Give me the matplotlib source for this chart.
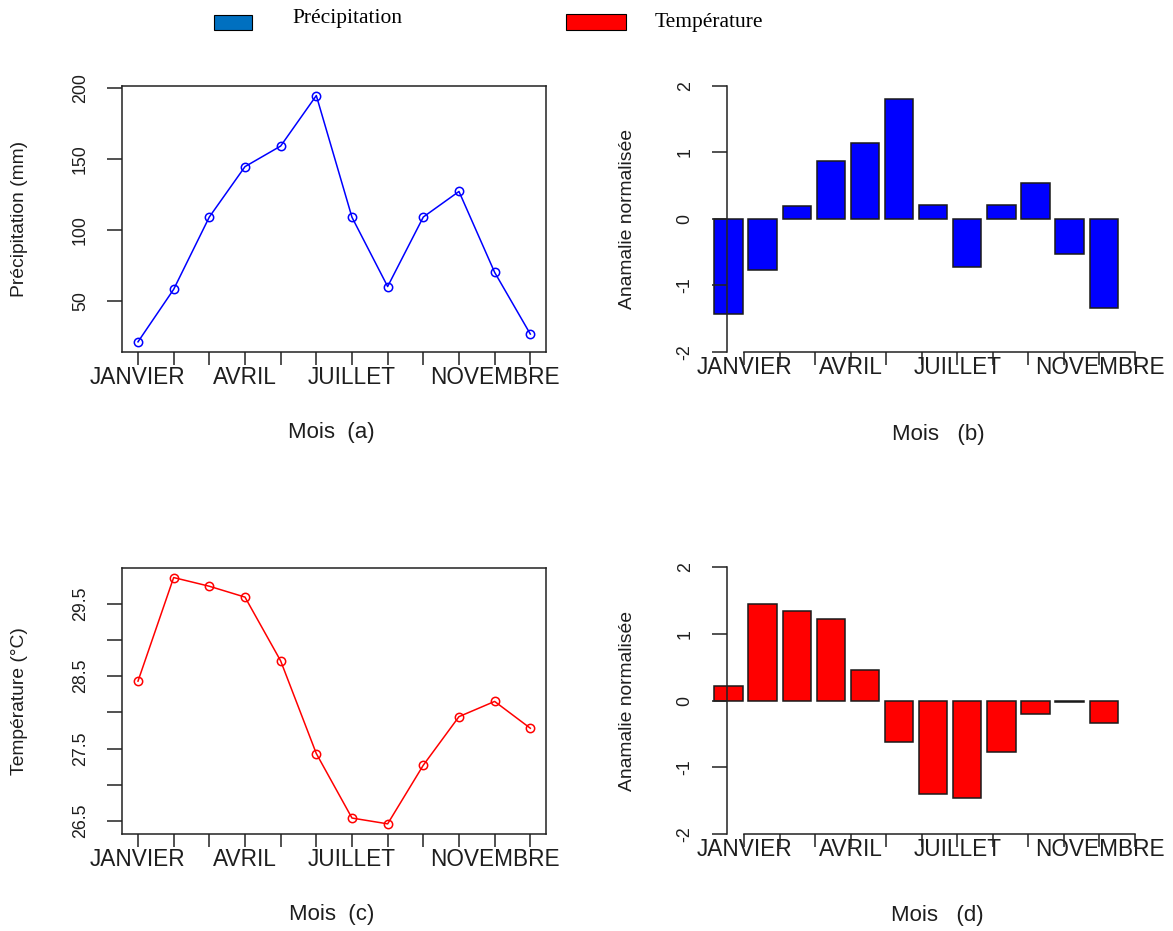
import numpy as np
import matplotlib
matplotlib.use("Agg")
import matplotlib.pyplot as plt
from matplotlib.patches import Rectangle

plt.rcParams['font.family'] = ['Liberation Sans', 'DejaVu Sans']
plt.rcParams['axes.unicode_minus'] = False

# --- data -------------------------------------------------------------
mois = ["JANVIER", "FEVRIER", "MARS", "AVRIL", "MAI", "JUIN",
        "JUILLET", "AOUT", "SEPTEMBRE", "OCTOBRE", "NOVEMBRE", "DECEMBRE"]
mois_affiches = ["JANVIER", "AVRIL", "JUILLET", "NOVEMBRE"]

precipitation = [21, 58, 109, 144.5, 159, 194.6, 108.8, 60, 109, 127, 70, 26.5]
temperature = [28.43, 29.86, 29.74, 29.59, 28.71, 27.43, 26.54, 26.46,
               27.27, 27.94, 28.15, 27.78]
anomalie_precip = [-1.44, -0.775, 0.185, 0.875, 1.135, 1.80, 0.205, -0.73,
                   0.205, 0.535, -0.53, -1.35]
anomalie_temp = [0.225, 1.445, 1.35, 1.22, 0.465, -0.62, -1.40, -1.465,
                 -0.775, -0.20, -0.015, -0.335]

precip_yticks = [50, 100, 150, 200]
temp_yticks = [26.5, 27.0, 27.5, 28.0, 28.5, 29.0, 29.5]
temp_ylabels = ["26.5", "", "27.5", "", "28.5", "", "29.5"]
anom_yticks = [-2, -1, 0, 1, 2]

W, H = 1173, 931
fig = plt.figure(figsize=(W / 100, H / 100), dpi=100)
fig.patch.set_facecolor("white")

TXT = "#1e1e1e"
AX = "#222222"
XFS = 16.3
YFS = 12.8


def axes_px(l, t, r, b):
    return fig.add_axes([l / W, 1 - b / H, (r - l) / W, (b - t) / H])


def month_labels():
    return [m if m in mois_affiches else "" for m in mois]


def style_ticks(ax, xticks, yticks, ylabels, xpad):
    ax.set_xticks(xticks)
    ax.set_xticklabels(month_labels(), fontsize=XFS, color=TXT)
    ax.set_yticks(yticks)
    ax.set_yticklabels(ylabels, fontsize=YFS, color=TXT)
    for lab in ax.get_yticklabels():
        lab.set_rotation(90)
        lab.set_va("center")
        lab.set_ha("right")
    ax.tick_params(axis="x", length=9, width=1.1, pad=xpad, color=AX)
    ax.tick_params(axis="y", length=11, width=1.1, pad=13, color=AX)


def line_panel(rect, values, color, yticks, ylabels, ylabel, ylabel_y):
    ax = axes_px(*rect)
    x = np.arange(1, 13)
    ax.plot(x, values, color=color, lw=1.1, marker="o", ms=6,
            mfc="none", mec=color, mew=1.1)
    lo, hi = min(values), max(values)
    pad = 0.04 * (hi - lo)
    ax.set_ylim(lo - pad, hi + pad)
    ax.set_xlim(0.56, 12.44)
    for s in ax.spines.values():
        s.set_linewidth(1.1)
        s.set_color(AX)
    style_ticks(ax, x, yticks, ylabels, xpad=1)
    fig.text(20 / W, 1 - ylabel_y / H, ylabel, rotation=90, ha="center",
             va="center", fontsize=13.9, color=TXT)
    return ax


def bar_panel(rect, values, color, ylabel_y):
    ax = axes_px(*rect)
    pos = 0.7 + 1.2 * np.arange(len(values))
    ax.bar(pos, values, width=1.0, color=color, edgecolor="#1a1a1a",
           linewidth=1.1)
    ax.set_xlim(0, 15)
    ax.set_ylim(-2, 2)
    ticks = 1.25 * np.arange(1, 13)
    ax.spines["top"].set_visible(False)
    ax.spines["right"].set_visible(False)
    ax.spines["left"].set_position(("data", 0.65))
    ax.spines["left"].set_bounds(-2, 2)
    ax.spines["bottom"].set_position(("data", -2))
    ax.spines["bottom"].set_bounds(1.25, 15)
    for s in ("left", "bottom"):
        ax.spines[s].set_linewidth(1.1)
        ax.spines[s].set_color(AX)
        ax.spines[s].set_clip_on(False)
    style_ticks(ax, ticks, anom_yticks, [str(v) for v in anom_yticks], xpad=-6)
    for t in ax.xaxis.get_major_ticks():
        t.tick1line.set_clip_on(False)
    fig.text(627 / W, 1 - ylabel_y / H, "Anamalie normalisée", rotation=90,
             ha="center", va="center", fontsize=13.9, color=TXT)
    return ax


# (a) precipitation
line_panel((122.3, 85.7, 546, 351.7), precipitation, "#0000FF",
           precip_yticks, [str(v) for v in precip_yticks],
           "Précipitation (mm)", 218.7)
fig.text(331.7 / W, 1 - 432.7 / H, "Mois  (a)", ha="center", va="center",
         fontsize=16, color=TXT)

# (b) precipitation anomaly
bar_panel((708.6, 85.7, 1135, 351.7), anomalie_precip, "#0000FF", 218.7)
fig.text(938 / W, 1 - 435 / H, "Mois   (b)", ha="center", va="center",
         fontsize=16, color=TXT)

# (c) temperature
line_panel((122.3, 567.7, 546, 833.7), temperature, "#FF0000",
           temp_yticks, temp_ylabels, "Température (°C)", 700.7)
fig.text(331.7 / W, 1 - 914.7 / H, "Mois  (c)", ha="center", va="center",
         fontsize=16, color=TXT)

# (d) temperature anomaly
bar_panel((708.6, 567.3, 1135, 834), anomalie_temp, "#FF0000", 700.7)
fig.text(937 / W, 1 - 916 / H, "Mois   (d)", ha="center", va="center",
         fontsize=16, color=TXT)


# shared legend along the top
def legend_patch(l, t, r, b, color):
    fig.patches.append(Rectangle((l / W, 1 - b / H), (r - l) / W, (b - t) / H,
                                 transform=fig.transFigure, facecolor=color,
                                 edgecolor="black", linewidth=0.8))


legend_patch(214, 15, 252, 30, "#0070C0")
legend_patch(566, 14, 626, 30, "#FF0000")
fig.text(292 / W, 1 - 18 / H, "Précipitation", ha="left", va="center",
         fontsize=15.5, family=["Liberation Serif", "DejaVu Serif"], color="black")
fig.text(655 / W, 1 - 22 / H, "Température", ha="left", va="center",
         fontsize=15.5, family=["Liberation Serif", "DejaVu Serif"], color="black")

fig.savefig("out.png", dpi=100, facecolor="white")
